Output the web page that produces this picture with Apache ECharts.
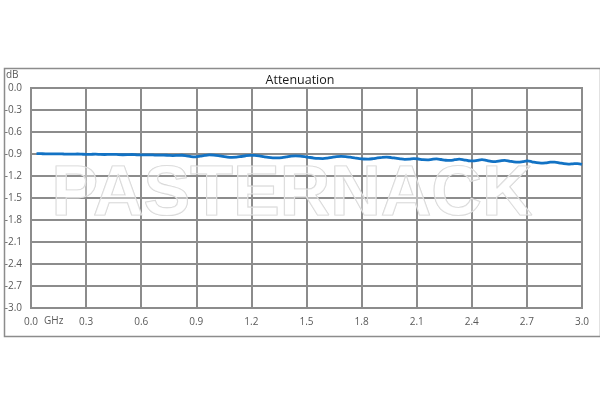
<!DOCTYPE html>
<html>
<head>
<meta charset="utf-8">
<script src="https://cdn.jsdelivr.net/npm/echarts@6/dist/echarts.min.js"></script>
<style>html,body{margin:0;padding:0;background:#fff;}#c{width:600px;height:400px;}</style>
</head>
<body>
<div id="c"></div>
<script>
// Frequency sampling grid (GHz)
const freqStart = 0.03;
const freqEnd = 3.0;
// Attenuation values (dB)
const attenuation = [
  -0.895,-0.896,-0.897,-0.897,-0.899,-0.898,-0.900,-0.901,-0.902,-0.900,
  -0.903,-0.905,-0.904,-0.903,-0.906,-0.907,-0.905,-0.904,-0.908,-0.910,
  -0.909,-0.907,-0.910,-0.912,-0.913,-0.911,-0.914,-0.916,-0.915,-0.918,
  -0.921,-0.919,-0.917,-0.925,-0.935,-0.938,-0.930,-0.920,-0.913,-0.915,
  -0.922,-0.932,-0.942,-0.946,-0.944,-0.934,-0.924,-0.918,-0.920,-0.927,
  -0.937,-0.946,-0.952,-0.954,-0.950,-0.940,-0.930,-0.925,-0.928,-0.936,
  -0.946,-0.955,-0.960,-0.962,-0.956,-0.946,-0.937,-0.933,-0.936,-0.944,
  -0.953,-0.962,-0.968,-0.970,-0.964,-0.954,-0.946,-0.943,-0.948,-0.957,
  -0.966,-0.972,-0.970,-0.962,-0.968,-0.978,-0.980,-0.972,-0.966,-0.975,
  -0.985,-0.988,-0.978,-0.970,-0.980,-0.992,-0.995,-0.986,-0.978,-0.988,
  -1.000,-1.003,-0.994,-0.986,-0.996,-1.008,-1.012,-1.004,-0.995,-1.006,
  -1.018,-1.024,-1.020,-1.012,-1.010,-1.020,-1.032,-1.038,-1.034,-1.030,
  -1.040
];
const yTicks = ['0.0','-0.3','-0.6','-0.9','-1.2','-1.5','-1.8','-2.1','-2.4','-2.7','-3.0'];
const xTicks = ['0.0','0.3','0.6','0.9','1.2','1.5','1.8','2.1','2.4','2.7','3.0'];
const titleText = 'Attenuation';
const yUnit = 'dB';
const xUnit = 'GHz';
const watermark = 'PASTERNACK';

const step = (freqEnd - freqStart) / (attenuation.length - 1);
const seriesData = attenuation.map((v, i) => [freqStart + i * step, v]);

const chart = echarts.init(document.getElementById('c'), null, {renderer: 'canvas'});
const gridColor = '#8c8c8c';
const labelColor = '#595959';
const font = 'Open Sans, Liberation Sans, sans-serif';
chart.setOption({
  animation: false,
  backgroundColor: '#ffffff',
  title: {
    text: titleText, left: 'center', top: 69,
    textStyle: {fontFamily: font, fontSize: 12.5, fontWeight: 'normal', color: '#1a1a1a'}
  },
  grid: {left: 31, right: 18, top: 88, bottom: 92, show: true, borderColor: gridColor, borderWidth: 2, containLabel: false},
  xAxis: {
    type: 'value', min: 0, max: 3, interval: 0.3,
    axisLine: {show: true, lineStyle: {color: gridColor, width: 2}},
    axisTick: {show: false},
    splitLine: {show: true, lineStyle: {color: gridColor, width: 2}},
    axisLabel: {color: labelColor, fontFamily: font, fontSize: 10, margin: 9,
      formatter: v => xTicks[Math.round(v / 0.3)]}
  },
  yAxis: {
    type: 'value', min: -3, max: 0, interval: 0.3,
    axisLine: {show: true, lineStyle: {color: gridColor, width: 2}},
    axisTick: {show: false},
    splitLine: {show: true, lineStyle: {color: gridColor, width: 2}},
    axisLabel: {color: labelColor, fontFamily: font, fontSize: 10, margin: 9,
      formatter: v => yTicks[Math.round(-v / 0.3)]}
  },
  graphic: [
    {type: 'rect', left: 2, top: 66, shape: {width: 596, height: 268}, z: -10,
      style: {fill: 'none', stroke: '#8c8c8c', lineWidth: 1.5}},
    {type: 'text', left: 6, top: 70, style: {text: yUnit, fill: labelColor, font: '10px ' + font}},
    {type: 'text', left: 44, top: 316, style: {text: xUnit, fill: labelColor, font: '10px ' + font}},
    {type: 'text', x: 292, y: 196, z: 1, style: {text: watermark, fill: 'rgba(255,255,255,0.4)', stroke: '#d4d4d4', lineWidth: 1.2,
      font: 'bold 70px Liberation Sans, sans-serif', textAlign: 'center', textVerticalAlign: 'middle'}}
  ],
  series: [{
    type: 'line', data: seriesData, showSymbol: false, smooth: 0.3, z: 5,
    lineStyle: {color: '#1272c4', width: 2.8}
  }]
});
</script>
</body>
</html>
